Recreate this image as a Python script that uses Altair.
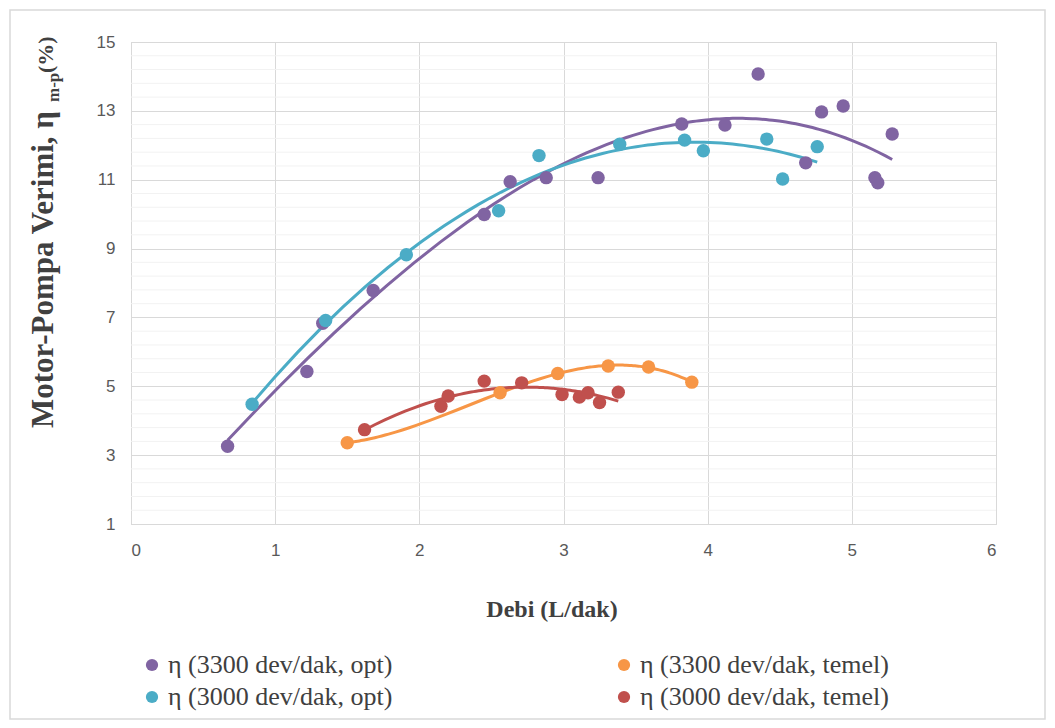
import altair as alt
import pandas as pd

# ---- data ----
s_names = ["η (3300 dev/dak, opt)", "η (3000 dev/dak, opt)",
           "η (3300 dev/dak, temel)", "η (3000 dev/dak, temel)"]
s_colors = ["#8064A2", "#4BACC6", "#F79646", "#C0504D"]

x_3300_opt = [0.67, 1.22, 1.33, 1.68, 2.45, 2.63, 2.88, 3.24, 3.82, 4.12, 4.35,
              4.68, 4.79, 4.94, 5.16, 5.18, 5.28]
y_3300_opt = [3.26, 5.43, 6.83, 7.78, 9.99, 10.94, 11.06, 11.06, 12.62, 12.59, 14.07,
              11.49, 12.97, 13.14, 11.06, 10.91, 12.33]

x_3000_opt = [0.84, 1.35, 1.91, 2.55, 2.83, 3.39, 3.84, 3.97, 4.41, 4.52, 4.76]
y_3000_opt = [4.48, 6.91, 8.82, 10.10, 11.70, 12.03, 12.15, 11.84, 12.18, 11.02, 11.96]

x_3300_temel = [1.50, 2.56, 2.96, 3.31, 3.59, 3.89]
y_3300_temel = [3.36, 4.81, 5.37, 5.59, 5.56, 5.12]

x_3000_temel = [1.62, 2.15, 2.20, 2.45, 2.71, 2.99, 3.11, 3.17, 3.25, 3.38]
y_3000_temel = [3.74, 4.42, 4.72, 5.15, 5.10, 4.76, 4.69, 4.81, 4.53, 4.83]

trend_order = {s_names[0]: 3, s_names[1]: 2, s_names[2]: 3, s_names[3]: 2}

x_ticks = [0, 1, 2, 3, 4, 5, 6]
y_ticks = [1, 3, 5, 7, 9, 11, 13, 15]
y_minor = [round(t + d, 1) for t in y_ticks[:-1] for d in (0.4, 0.8, 1.2, 1.6)]

x_title = "Debi (L/dak)"
y_title_main = "Motor-Pompa Verimi, η"
y_title_sub = "m-p"
y_title_end = "(%)"

frames = []
for name, xs, ys in [(s_names[0], x_3300_opt, y_3300_opt),
                     (s_names[1], x_3000_opt, y_3000_opt),
                     (s_names[2], x_3300_temel, y_3300_temel),
                     (s_names[3], x_3000_temel, y_3000_temel)]:
    frames.append(pd.DataFrame({"x": xs, "y": ys, "series": name}))
df = pd.concat(frames, ignore_index=True)

GRID = "#D9D9D9"
MINOR = "#F2F2F2"
TICKC = "#595959"
TITLEC = "#404040"

xscale = alt.Scale(domain=[0, 6], nice=False, zero=False)
yscale = alt.Scale(domain=[1, 15], nice=False, zero=False)
color = alt.Color(
    "series:N",
    scale=alt.Scale(domain=s_names, range=s_colors),
    legend=alt.Legend(
        title=None, orient="none", legendX=8, legendY=610, columns=2,
        columnPadding=218, rowPadding=6, symbolType="circle", symbolSize=150,
        symbolStrokeWidth=0, labelFont="Liberation Serif", labelFontSize=26,
        labelColor=TITLEC, labelOffset=3, padding=0, labelLimit=400,
    ),
)

xaxis = alt.Axis(values=x_ticks, grid=True, gridColor=GRID, domainColor=GRID,
                 ticks=False, labelFont="Liberation Sans", labelFontSize=17,
                 labelColor=TICKC, labelPadding=18, title=None)
yaxis = alt.Axis(values=y_ticks, grid=True, gridColor=GRID, domainColor=GRID,
                 ticks=False, labelFont="Liberation Sans", labelFontSize=17,
                 labelColor=TICKC, labelPadding=16, title=None)

minor = alt.Chart(pd.DataFrame({"v": y_minor})).mark_rule(
    color=MINOR, strokeWidth=1).encode(
    y=alt.Y("v:Q", scale=yscale, axis=yaxis))

lines = []
for name in s_names:
    lines.append(
        alt.Chart(df).transform_filter(alt.datum.series == name)
        .transform_regression("x", "y", method="poly", order=trend_order[name],
                              groupby=["series"])
        .mark_line(strokeWidth=3)
        .encode(x=alt.X("x:Q", scale=xscale, axis=xaxis),
                y=alt.Y("y:Q", scale=yscale, axis=yaxis),
                color=color)
    )

points = alt.Chart(df).mark_circle(size=180, opacity=1).encode(
    x=alt.X("x:Q", scale=xscale, axis=xaxis),
    y=alt.Y("y:Q", scale=yscale, axis=yaxis),
    color=color,
)

def label(txt, x, y, size, angle=0, align="center", baseline="alphabetic"):
    return alt.Chart(pd.DataFrame({"t": [txt]})).mark_text(
        font="Liberation Serif", fontWeight="bold", fontSize=size,
        color=TITLEC, angle=angle, align=align, baseline=baseline).encode(
        text="t:N", x=alt.value(x), y=alt.value(y))

xt = label(x_title, 421, 575, 24)
yt1 = label(y_title_main, -78, 386, 31, angle=270, align="left")
yt2 = label(y_title_sub, -72, 60, 17, angle=270, align="left")
yt3 = label(y_title_end, -78, 31, 22, angle=270, align="left")

border = alt.Chart(pd.DataFrame({"a": [0]})).mark_rect(
    fill=None, stroke=GRID, strokeWidth=1.5).encode(
    x=alt.value(-121), x2=alt.value(914), y=alt.value(-32), y2=alt.value(677))

chart = alt.layer(border, minor, *lines, points, xt, yt1, yt2, yt3).properties(
    width=865, height=482,
    autosize=alt.AutoSizeParams(type="none"),
    padding={"left": 123, "top": 34, "right": 51, "bottom": 196},
).configure_view(stroke=None).configure(background="white")

chart.save("out.html", embed_options={"renderer": "svg", "actions": False})
